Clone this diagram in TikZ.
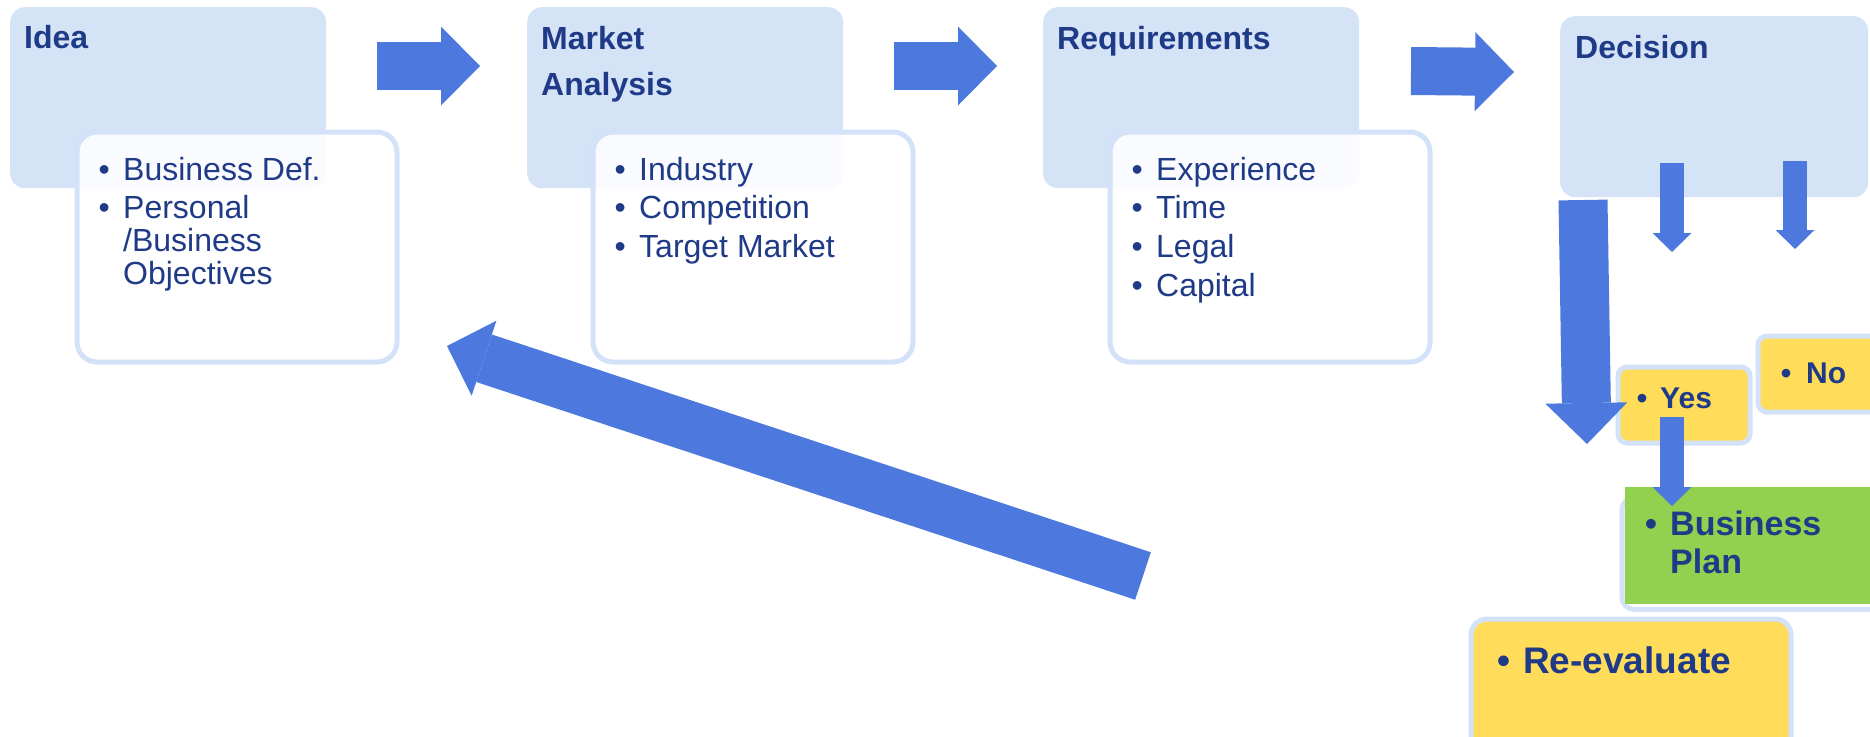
\documentclass[tikz,border=0pt]{standalone}
\usepackage{fontspec}
\setmainfont{Liberation Sans}
\usetikzlibrary{arrows.meta}

\definecolor{boxblue}{HTML}{D5E3F7}
\definecolor{edgeblue}{HTML}{D3E2F8}
\definecolor{arrowblue}{HTML}{4D79DE}
\definecolor{navy}{HTML}{1F3A87}
\definecolor{notegold}{HTML}{FFDC5A}
\definecolor{plangreen}{HTML}{92D050}

\newcommand{\listfont}{\fontsize{32}{32.5}\selectfont}
\newcommand{\headfont}{\fontsize{32}{46}\selectfont\bfseries}

\tikzset{
  headbox/.style={rectangle, rounded corners=15pt, fill=boxblue, anchor=north west,
    inner sep=0pt, minimum width=316pt, minimum height=181pt},
  listbox/.style={rectangle, rounded corners=20pt, draw=edgeblue, line width=5pt,
    fill=white, fill opacity=0.88, anchor=north west, inner sep=0pt,
    minimum width=320pt, minimum height=230pt},
  notebox/.style={rectangle, rounded corners=9pt, draw=edgeblue, line width=5pt,
    fill=notegold, anchor=north west, inner sep=0pt},
  txt/.style={anchor=base west, inner sep=0pt, text=navy},
  fatarrow/.style={arrowblue, line width=48pt,
    -{Triangle[length=39pt, width=79pt, line width=0pt]}},
  slimarrow/.style={arrowblue, line width=24pt,
    -{Triangle[length=19pt, width=39pt, line width=0pt]}},
}

\begin{document}
\begin{tikzpicture}[x=1pt, y=-1pt]
\useasboundingbox (0,0) rectangle (1870,736);
\clip (0,0) rectangle (1870,736);

% top row of boxes
\path (10,7) node (idea) [headbox] {};
\path (527,7) node (market) [headbox] {};
\path (1043,7) node (req) [headbox] {};
\path (1560,16) node (decision) [headbox, minimum width=308pt] {};

\path (74.5,129.5) node (ideaL) [listbox] {};
\path (590.5,129.5) node (marketL) [listbox] {};
\path (1107.5,129.5) node (reqL) [listbox] {};

\path (24,48) node (ideaT) [txt, font=\headfont] {Idea};
\path (541,49) node (marketT) [txt, font=\headfont]
  {\begin{tabular}[t]{@{}l@{}}Market\\Analysis\end{tabular}};
\path (1057,49) node (reqT) [txt, font=\headfont] {Requirements};
\path (1575,58) node (decT) [txt, font=\headfont] {Decision};

\path (98.4,180) node (ideaX) [txt, font=\listfont]
  {\begin{tabular}[t]{@{}p{24.6pt}@{}l@{}}
   \textbullet & Business Def.\\[6pt]
   \textbullet & Personal\\
   & /Business\\
   & Objectives
   \end{tabular}};
\path (614.4,180) node (marketX) [txt, font=\listfont]
  {\begin{tabular}[t]{@{}p{24.6pt}@{}l@{}}
   \textbullet & Industry\\[6pt]
   \textbullet & Competition\\[6pt]
   \textbullet & Target Market
   \end{tabular}};
\path (1131.4,180) node (reqX) [txt, font=\listfont]
  {\begin{tabular}[t]{@{}p{24.6pt}@{}l@{}}
   \textbullet & Experience\\[6pt]
   \textbullet & Time\\[6pt]
   \textbullet & Legal\\[6pt]
   \textbullet & Capital
   \end{tabular}};

% decision branch
\path (1615.5,364.5) node (yes) [notebox, minimum width=132pt, minimum height=76pt] {};
\path (1755.5,333.5) node (no) [notebox, minimum width=140pt, minimum height=76pt] {};
\path (1619.5,495) node (planE) [rectangle, rounded corners=12pt, draw=edgeblue,
  line width=5pt, anchor=north west, minimum width=280pt, minimum height=112pt] {};
\path (1625,487) node (plan) [rectangle, fill=plangreen, anchor=north west,
  inner sep=0pt, minimum width=250pt, minimum height=117pt] {};
\path (1468.5,616.5) node (reeval) [notebox, rounded corners=16pt,
  minimum width=320pt, minimum height=150pt] {};

\path (1636.75,408) node (yesT) [txt, font=\fontsize{30}{36}\selectfont\bfseries]
  {\makebox[23.25pt][l]{\textbullet}Yes};
\path (1780.75,383) node (noT) [txt, font=\fontsize{30}{36}\selectfont\bfseries]
  {\makebox[25.25pt][l]{\textbullet}No};
\path (1645,535) node (planT) [txt, font=\fontsize{34}{38}\selectfont\bfseries]
  {\begin{tabular}[t]{@{}p{25pt}@{}l@{}}\textbullet & Business\\ & Plan\end{tabular}};
\path (1497.5,673) node (reevalT) [txt, font=\fontsize{37}{44}\selectfont\bfseries]
  {\makebox[25.5pt][l]{\textbullet}Re-evaluate};

% block arrows
\coordinate (a1s) at (377,66);
\coordinate (a1e) at (480,66);
\coordinate (a2s) at (894,66);
\coordinate (a2e) at (997,66);
\coordinate (a3s) at (1411,71);
\coordinate (a3e) at (1514,72);
\coordinate (yesS) at (1672,163);
\coordinate (yesE) at (1672,252);
\coordinate (noS) at (1795,161);
\coordinate (noE) at (1795,249);
\coordinate (downS) at (1583,200);
\coordinate (downE) at (1587,444);
\coordinate (planS) at (1672,417);
\coordinate (planP) at (1672,506);
\coordinate (backS) at (1143,576);
\coordinate (backE) at (447,346);

\draw [fatarrow] (a1s) -- (a1e);
\draw [fatarrow] (a2s) -- (a2e);
\draw [fatarrow] (a3s) -- (a3e);
\draw [slimarrow] (yesS) -- (yesE);
\draw [slimarrow] (noS) -- (noE);
\draw [fatarrow, line width=49pt,
  -{Triangle[length=41pt, width=82pt, line width=0pt]}] (downS) -- (downE);
\draw [slimarrow] (planS) -- (planP);
\draw [fatarrow, line width=50pt] (backS) -- (backE);

\end{tikzpicture}
\end{document}
